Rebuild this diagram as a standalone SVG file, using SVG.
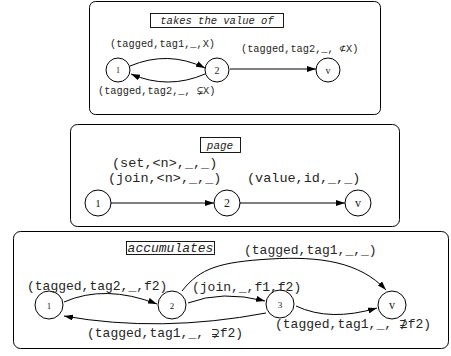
<svg xmlns="http://www.w3.org/2000/svg" width="451" height="356" viewBox="0 0 451 356">
  <style>
    .frame { fill: #ffffff; stroke: #000000; stroke-width: 1; }
    .tag { fill: #ffffff; stroke: #000000; stroke-width: 0.9; }
    .tagtxt { font-family: "Liberation Mono", "DejaVu Sans Mono", monospace; font-style: italic; text-anchor: middle; fill: #222; }
    .node circle { fill: #ffffff; stroke: #000000; stroke-width: 1; }
    .node text { font-family: "Liberation Serif", "DejaVu Serif", serif; text-anchor: middle; fill: #222; }
    .edge { fill: none; stroke: #000000; stroke-width: 1; marker-end: url(#head); }
    .lbl { font-family: "Liberation Mono", "DejaVu Sans Mono", monospace; fill: #262626; }
    .s1 { font-size: 10.3px; }
    .s2 { font-size: 13.5px; }
    .s3 { font-size: 13px; }
  </style>
  <defs>
    <marker id="head" markerUnits="userSpaceOnUse" markerWidth="9" markerHeight="6" refX="9" refY="3" orient="auto">
      <path d="M0,0 L9,3 L0,6 z" fill="#000"/>
    </marker>
  </defs>
  <rect width="451" height="356" fill="#ffffff"/>

  <!-- panel: takes the value of -->
  <g id="panel-takes">
    <rect class="frame" x="89.5" y="1.5" width="291" height="113" rx="6"/>
    <rect class="tag" x="150.5" y="13.5" width="133" height="14"/>
    <text class="tagtxt" x="217" y="24" font-size="10.5">takes the value of</text>
  </g>
  <g id="t-n1" class="node"><circle cx="118" cy="70" r="12"/><text x="118" y="73" font-size="8">1</text></g>
  <g id="t-n2" class="node"><circle cx="217" cy="70" r="12"/><text x="217" y="73.5" font-size="10">2</text></g>
  <g id="t-nv" class="node"><circle cx="328" cy="70" r="12"/><text x="328" y="73.5" font-size="10">v</text></g>

  <!-- panel: page -->
  <g id="panel-page">
    <rect class="frame" x="70.5" y="124.5" width="329" height="102" rx="7"/>
    <rect class="tag" x="200.5" y="137.5" width="40" height="15"/>
    <text class="tagtxt" x="220" y="148.5" font-size="11">page</text>
  </g>
  <g id="p-n1" class="node"><circle cx="98" cy="203" r="13"/><text x="98" y="207" font-size="11">1</text></g>
  <g id="p-n2" class="node"><circle cx="227" cy="203" r="13"/><text x="227" y="207" font-size="12">2</text></g>
  <g id="p-nv" class="node"><circle cx="358" cy="203" r="13"/><text x="358" y="207" font-size="12">v</text></g>

  <!-- panel: accumulates -->
  <g id="panel-acc">
    <rect class="frame" x="13.5" y="231.5" width="435" height="117" rx="7"/>
    <rect class="tag" x="126.5" y="241.5" width="88" height="13"/>
    <text class="tagtxt" x="170.5" y="252" font-size="13">accumulates</text>
  </g>
  <g id="a-n1" class="node"><circle cx="49" cy="305" r="14"/><text x="49" y="308.5" font-size="9">1</text></g>
  <g id="a-n2" class="node"><circle cx="172" cy="305" r="14"/><text x="172" y="308.5" font-size="9">2</text></g>
  <g id="a-n3" class="node"><circle cx="280" cy="304" r="14"/><text x="280" y="307.5" font-size="9">3</text></g>
  <g id="a-nv" class="node"><circle cx="392" cy="305" r="14"/><text x="392" y="309" font-size="12">v</text></g>

  <!-- connectors -->
  <g id="connectors">
    <path class="edge" d="M130,66 Q168,50 205,68"/>
    <path class="edge" d="M205,74 Q168,90 131,74"/>
    <path class="edge" d="M230,69 L316,69"/>

    <path class="edge" d="M111,203 L214,203"/>
    <path class="edge" d="M240,203 L345,203"/>

    <path class="edge" d="M64,302 Q105,284 157,304"/>
    <path class="edge" d="M188,303 Q222,290 265,301"/>
    <path class="edge" d="M296,306 Q330,322 377,308"/>
    <path class="edge" d="M266,313 Q160,333 64,316"/>
    <path class="edge" d="M182,291 C200,268 220,262 270,259 S360,262 386,290"/>
  </g>

  <!-- edge labels -->
  <g id="labels">
    <text class="lbl s1" x="110" y="47">(tagged,tag1,_,X)</text>
    <text class="lbl s1" x="241" y="52">(tagged,tag2,_, ⊄X)</text>
    <text class="lbl s1" x="98" y="94">(tagged,tag2,_, ⊊X)</text>

    <text class="lbl s2" x="112" y="167">(set,&lt;n&gt;,_,_)</text>
    <text class="lbl s2" x="108" y="182">(join,&lt;n&gt;,_,_)</text>
    <text class="lbl s2" x="247" y="182">(value,id,_,_)</text>

    <text class="lbl s3" x="27" y="290">(tagged,tag2,_,f2)</text>
    <text class="lbl s3" x="192" y="291">(join,_,f1,f2)</text>
    <text class="lbl s3" x="244" y="254">(tagged,tag1,_,_)</text>
    <text class="lbl s3" x="87" y="337">(tagged,tag1,_, ⊋f2)</text>
    <text class="lbl s3" x="275" y="328">(tagged,tag1,_, ⊉f2)</text>
  </g>
</svg>
